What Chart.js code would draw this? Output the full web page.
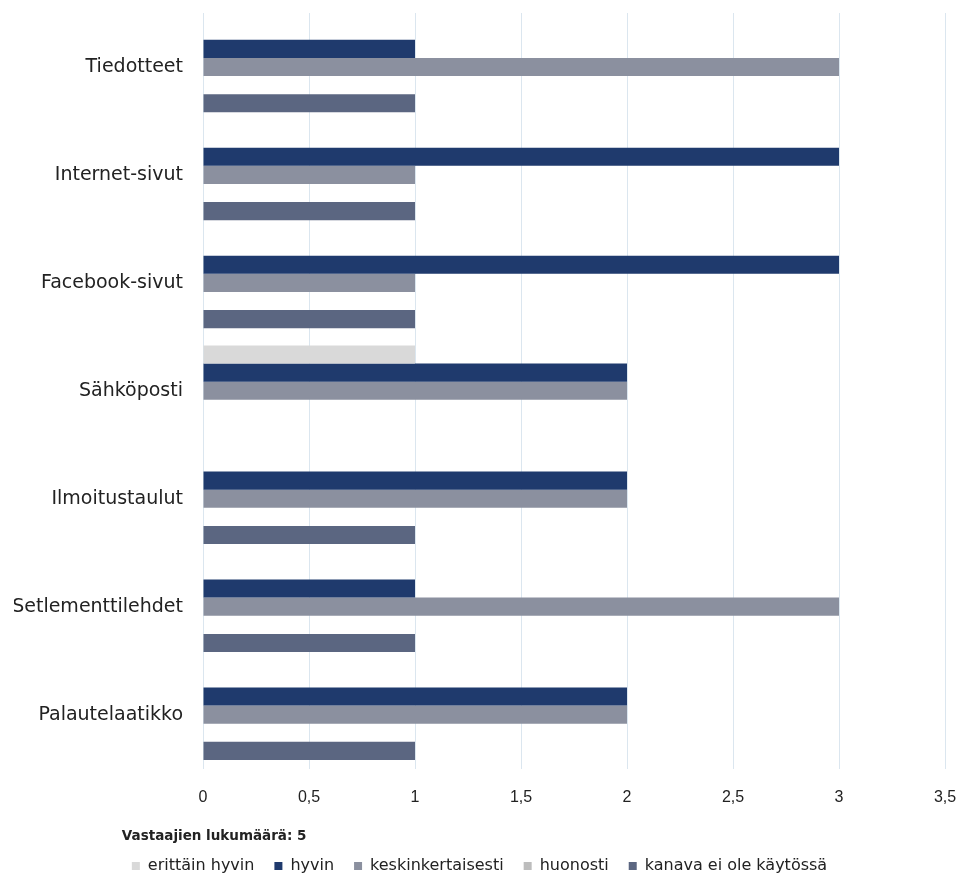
<!DOCTYPE html>
<html lang="fi">
<head>
  <meta charset="UTF-8">
  <title>Kanavat</title>
  <style>
    html, body { margin: 0; padding: 0; background: #fff; }
    #wrap { width: 962px; height: 893px; }
  </style>
</head>
<body>
  <div id="wrap"><canvas id="chart"></canvas></div>
  <script src="https://cdn.jsdelivr.net/npm/chart.js@4/dist/chart.umd.min.js"></script>
  <script>
    const categories = ['Tiedotteet', 'Internet-sivut', 'Facebook-sivut', 'Sähköposti', 'Ilmoitustaulut', 'Setlementtilehdet', 'Palautelaatikko']
    const seriesNames = ['erittäin hyvin', 'hyvin', 'keskinkertaisesti', 'huonosti', 'kanava ei ole käytössä']
    const erittainHyvin = [0, 0, 0, 1, 0, 0, 0]
    const hyvin = [1, 3, 3, 2, 2, 1, 2]
    const keskinkertaisesti = [3, 1, 1, 2, 2, 3, 2]
    const huonosti = [0, 0, 0, 0, 0, 0, 0]
    const eiKaytossa = [1, 1, 1, 0, 1, 1, 1]
    const xTicks = [0, 0.5, 1, 1.5, 2, 2.5, 3, 3.5]
    const chartTitle = 'Vastaajien lukumäärä: 5'

    const colors = ['#d9d9d9', '#1f3a6d', '#8b909f', '#bdbdbd', '#5b6681']
    const values = [erittainHyvin, hyvin, keskinkertaisesti, huonosti, eiKaytossa]

    const ctx = document.getElementById('chart').getContext('2d')
    new Chart(ctx, {
      type: 'bar',
      data: {
        labels: categories,
        datasets: seriesNames.map((name, i) => ({
          label: name,
          data: values[i],
          backgroundColor: colors[i],
          borderWidth: 0,
          categoryPercentage: 0.84,
          barPercentage: 1
        }))
      },
      options: {
        indexAxis: 'y',
        responsive: true,
        maintainAspectRatio: false,
        animation: false,
        layout: { padding: { top: 13, right: 17, left: 14, bottom: 9 } },
        scales: {
          x: {
            min: 0,
            max: 3.5,
            afterBuildTicks: s => { s.ticks = xTicks.map(v => ({ value: v })) },
            afterFit: s => { s.paddingLeft = 0; s.paddingRight = 0 },
            grid: { color: '#dbe6ef', drawTicks: false },
            border: { display: false },
            ticks: {
              padding: 19,
              color: '#222',
              font: { family: "'Liberation Sans Narrow', 'Liberation Sans', sans-serif", size: 16 },
              callback: v => String(v).replace('.', ',')
            }
          },
          y: {
            afterFit: s => { s.width = 189; s.paddingTop = 0; s.paddingBottom = 0 },
            grid: { display: false },
            border: { color: '#dbe6ef' },
            ticks: {
              padding: 12,
              color: '#222',
              font: { family: "'DejaVu Sans', sans-serif", size: 19 }
            }
          }
        },
        plugins: {
          tooltip: { enabled: false },
          legend: {
            position: 'bottom',
            title: {
              display: true,
              text: chartTitle,
              position: 'start',
              color: '#222',
              font: { family: "'DejaVu Sans', sans-serif", size: 13.5, weight: 'bold' },
              padding: { top: 4, bottom: -8 }
            },
            labels: {
              boxWidth: 8,
              boxHeight: 8,
              padding: 20,
              color: '#222',
              font: { family: "'DejaVu Sans', sans-serif", size: 16 }
            }
          }
        }
      }
    })
  </script>
</body>
</html>
